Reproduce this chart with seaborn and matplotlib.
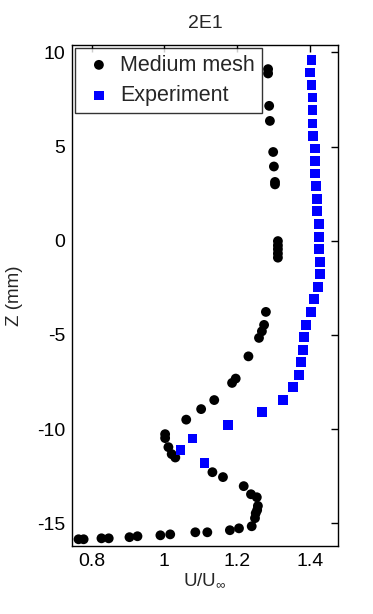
import seaborn as sns
import matplotlib.pyplot as plt
import pandas as pd

# Medium mesh (black circles)
mesh_u = [1.285, 1.285, 1.288, 1.290, 1.299, 1.301, 1.304, 1.304,
          1.312, 1.312, 1.312, 1.312, 1.312,
          1.279, 1.274, 1.268, 1.260, 1.231, 1.196, 1.186, 1.137, 1.101, 1.060,
          1.002, 1.002, 1.011, 1.020, 1.030, 1.132, 1.161, 1.218, 1.238, 1.254,
          1.257, 1.255, 1.251, 1.249, 1.240, 1.205, 1.180, 1.118, 1.085, 1.016,
          0.989, 0.926, 0.904, 0.847, 0.827, 0.778, 0.764]
mesh_z = [9.11, 8.88, 7.16, 6.36, 4.71, 3.94, 3.12, 2.99,
          -0.02, -0.25, -0.45, -0.68, -0.90,
          -3.78, -4.47, -4.81, -5.16, -6.14, -7.32, -7.55, -8.46, -8.94, -9.50,
          -10.27, -10.48, -10.96, -11.33, -11.51, -12.29, -12.55, -13.03, -13.46, -13.62,
          -14.08, -14.30, -14.47, -14.73, -15.16, -15.27, -15.37, -15.48, -15.48, -15.59,
          -15.64, -15.69, -15.74, -15.80, -15.80, -15.85, -15.85]

# Experiment (blue squares)
exp_u = [1.404, 1.401, 1.404, 1.407, 1.407, 1.407, 1.408, 1.414, 1.414, 1.414,
         1.416, 1.419, 1.419, 1.425, 1.425, 1.425, 1.427, 1.427, 1.422, 1.411,
         1.403, 1.389, 1.384, 1.381, 1.375, 1.370, 1.353, 1.326, 1.268, 1.175,
         1.077, 1.044, 1.110]
exp_z = [9.59, 8.94, 8.26, 7.61, 6.93, 6.22, 5.56, 4.89, 4.23, 3.56,
         2.90, 2.23, 1.57, 0.90, 0.21, -0.43, -1.12, -1.76, -2.45, -3.09,
         -3.78, -4.47, -5.11, -5.80, -6.44, -7.13, -7.77, -8.46, -9.10, -9.79,
         -10.50, -11.12, -11.81]

mesh = pd.DataFrame({'u': mesh_u, 'z': mesh_z})
exp = pd.DataFrame({'u': exp_u, 'z': exp_z})

sns.set_style('white')
plt.rcParams['font.family'] = ['Liberation Sans', 'DejaVu Sans']
plt.rcParams['mathtext.fontset'] = 'custom'
plt.rcParams['mathtext.rm'] = 'Liberation Sans'
plt.rcParams['mathtext.it'] = 'Liberation Sans'
plt.rcParams['axes.unicode_minus'] = False

fig = plt.figure(figsize=(3.73, 6.14), dpi=100)
ax = fig.add_axes([0.193, 0.111, 0.713, 0.816])

sns.scatterplot(data=mesh, x='u', y='z', marker='o', color='black', s=50,
                edgecolor='none', label='Medium mesh', ax=ax)
sns.scatterplot(data=exp, x='u', y='z', marker='s', color='blue', s=48,
                edgecolor='none', label='Experiment', ax=ax)

ax.set_xlim(0.746, 1.477)
ax.set_ylim(-16.2, 10.4)
ax.set_xticks([0.8, 1, 1.2, 1.4])
ax.set_xticklabels(['0.8', '1', '1.2', '1.4'])
ax.set_yticks([-15, -10, -5, 0, 5, 10])
ax.tick_params(direction='in', length=5, width=1, top=True, right=True,
               labelsize=14, colors='black', pad=5)
for sp in ax.spines.values():
    sp.set_color('black')
    sp.set_linewidth(1)

ax.set_title('2E1', fontsize=14, pad=12)
ax.set_xlabel(r'U/U$_\infty$', fontsize=13.5, labelpad=1)
ax.set_ylabel('Z (mm)', fontsize=13.5, labelpad=10)

leg = ax.legend(loc='upper left', fontsize=15.5, frameon=True, fancybox=False,
                edgecolor='black', borderaxespad=0.15, handletextpad=0.2,
                borderpad=0.3, labelspacing=0.45, handlelength=1.6,
                markerscale=1.0)
leg.get_frame().set_linewidth(1)

fig.savefig('out.png', dpi=100)
